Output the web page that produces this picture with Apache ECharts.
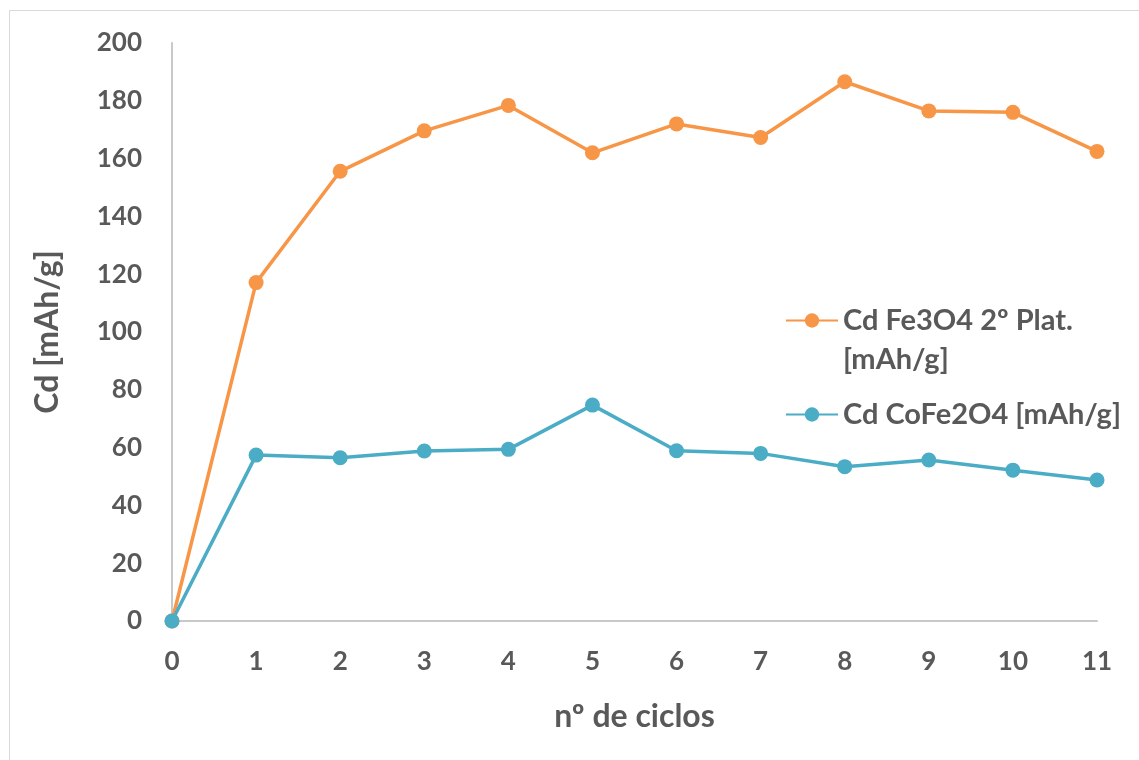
<!DOCTYPE html>
<html><head><meta charset="utf-8">
<script src="https://cdn.jsdelivr.net/npm/echarts@6/dist/echarts.min.js"></script>
<style>html,body{margin:0;padding:0;background:#fff}#c{width:1139px;height:760px}</style>
</head><body><div id="c"></div>
<script>
var cycles = [0,1,2,3,4,5,6,7,8,9,10,11];
var fe3o4 = [0,117.1,155.6,169.6,178.4,162.0,172.0,167.3,186.6,176.5,176.0,162.5];
var cofe2o4 = [0,57.4,56.5,58.8,59.4,74.7,58.9,58.0,53.4,55.7,52.2,48.8];
var seriesNames = ['Cd Fe3O4 2º Plat. [mAh/g]','Cd CoFe2O4 [mAh/g]'];
var xName = 'nº de ciclos';
var yName = 'Cd [mAh/g]';

function pairs(xs, ys){ return xs.map(function(x,i){return [x, ys[i]];}); }
var font = 'Lato, "Open Sans", sans-serif';
var txt = '#595959';
var chart = echarts.init(document.getElementById('c'));
chart.setOption({
  animation:false,
  backgroundColor:'#fff',
  graphic:[{type:'rect',shape:{x:9.5,y:10.5,width:1200,height:800},style:{fill:'none',stroke:'#D9D9D9',lineWidth:1},silent:true}],
  grid:{left:172,right:42,top:43,bottom:139,containLabel:false},
  legend:[{
    orient:'vertical', left:780, top:257,
    itemWidth:52, itemHeight:18,
    data:[seriesNames[0]],
    formatter:function(n){ return '{e|}\n{t|' + n.replace('Plat. ','Plat.}\n{t|') + '}'; },
    textStyle:{fontFamily:font,fontSize:29,fontWeight:'bold',color:txt,lineHeight:39,
      rich:{e:{height:39,lineHeight:39},t:{fontFamily:font,fontSize:29,fontWeight:'bold',color:txt,lineHeight:39}}}
  },{
    orient:'vertical', left:780, top:390,
    itemWidth:52, itemHeight:18,
    data:[seriesNames[1]],
    textStyle:{fontFamily:font,fontSize:29,fontWeight:'bold',color:txt,lineHeight:39}
  }],
  xAxis:{
    type:'value', min:0, max:11, interval:1,
    name:xName, nameLocation:'middle', nameGap:80,
    nameTextStyle:{fontFamily:font,fontSize:32,fontWeight:'bold',color:txt},
    axisLine:{show:true,lineStyle:{color:'#C8C8C8',width:2}},
    axisTick:{show:false}, splitLine:{show:false},
    axisLabel:{fontFamily:font,fontSize:26,fontWeight:'bold',color:txt,margin:28}
  },
  yAxis:{
    type:'value', min:0, max:200, interval:20,
    name:yName, nameLocation:'middle', nameGap:108, nameRotate:90,
    nameTextStyle:{fontFamily:font,fontSize:32,fontWeight:'bold',color:txt},
    axisLine:{show:true,lineStyle:{color:'#C8C8C8',width:2}},
    axisTick:{show:false}, splitLine:{show:false},
    axisLabel:{fontFamily:font,fontSize:26,fontWeight:'bold',color:txt,margin:30}
  },
  series:[
    {name:seriesNames[0],type:'line',data:pairs(cycles,fe3o4),symbol:'circle',symbolSize:15,
     lineStyle:{color:'#F79646',width:3.5},itemStyle:{color:'#F79646'}},
    {name:seriesNames[1],type:'line',data:pairs(cycles,cofe2o4),symbol:'circle',symbolSize:15,
     lineStyle:{color:'#4BACC6',width:3.5},itemStyle:{color:'#4BACC6'}}
  ]
});
</script></body></html>
